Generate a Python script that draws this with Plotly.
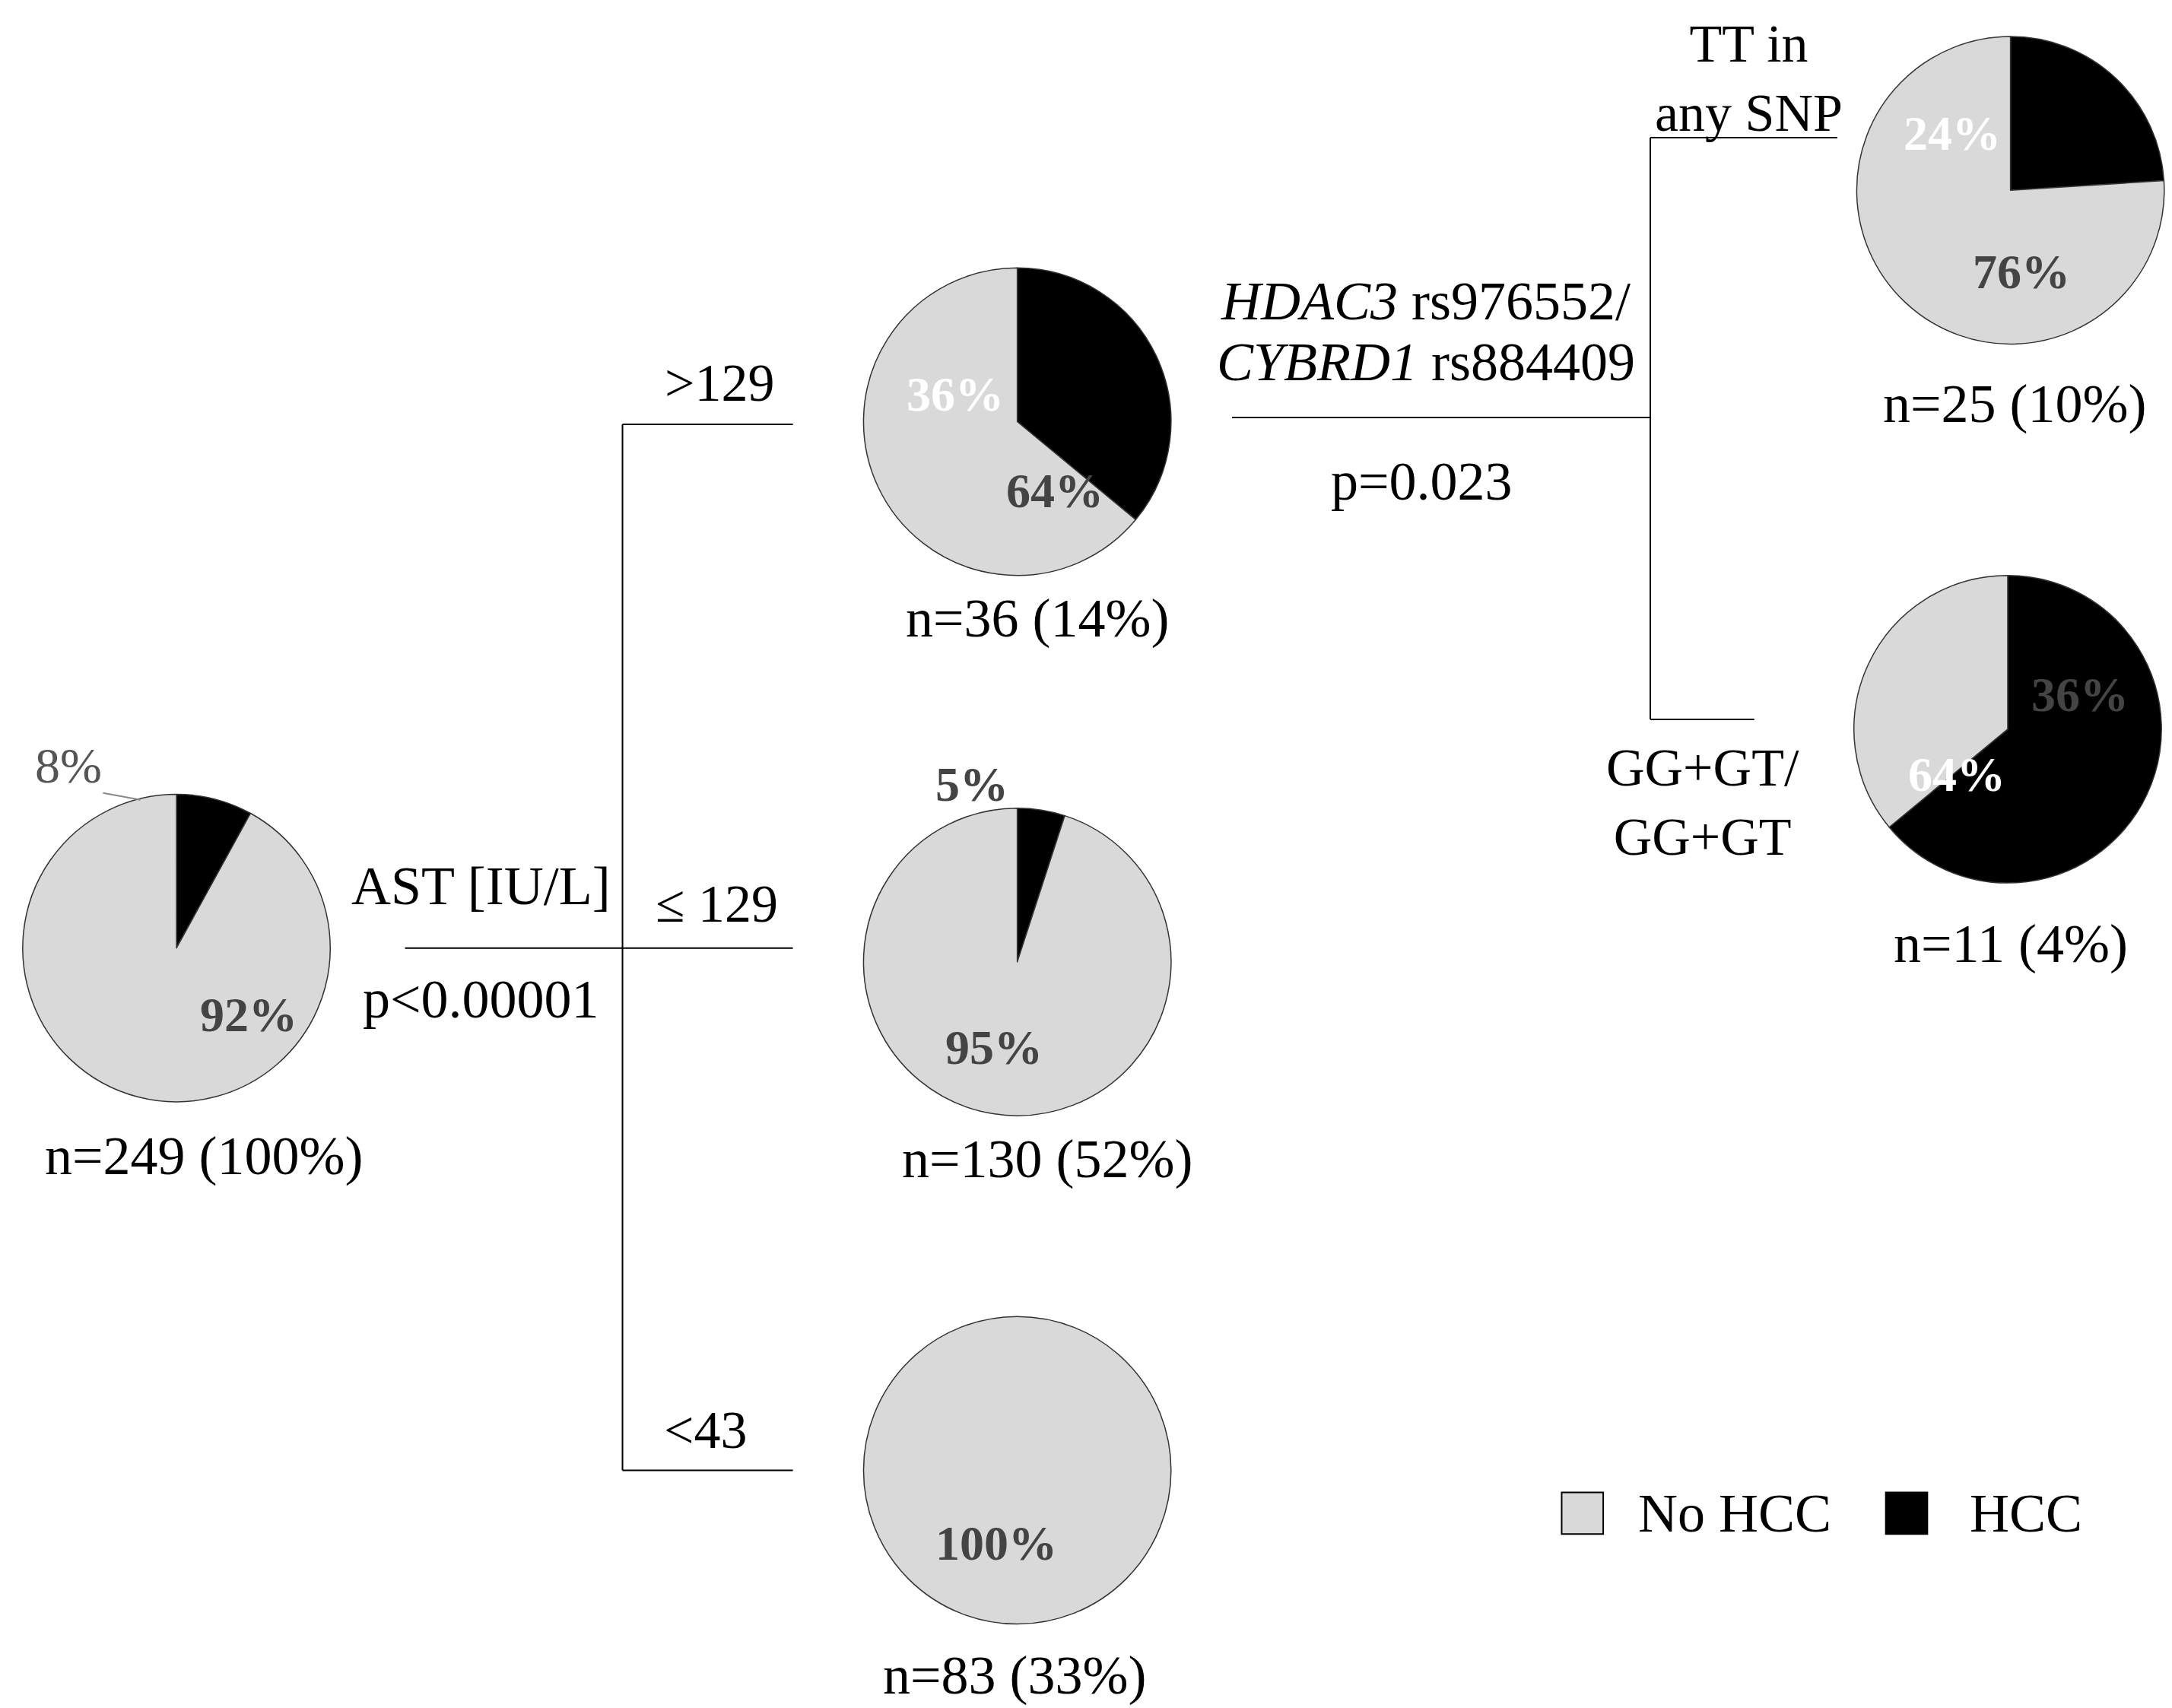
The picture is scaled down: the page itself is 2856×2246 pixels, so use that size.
import plotly.graph_objects as go

# reference drawn on a 1568 x 1233 grid, converted to paper fractions
W, H = 1568.0, 1233.0

node_names = ["root", "ast_high", "ast_mid", "ast_low", "snp_tt", "snp_gg"]
hcc_pct = [8, 36, 5, 0, 24, 64]
no_hcc_pct = [92, 64, 95, 100, 76, 36]
node_n = ["n=249 (100%)", "n=36 (14%)", "n=130 (52%)", "n=83 (33%)", "n=25 (10%)", "n=11 (4%)"]

centers = [(123, 680), (730, 300), (730, 690), (730, 1057), (1447, 133), (1445, 522)]
radius = 111

GREY = "#d9d9d9"
FONT = "Liberation Serif"


def px(x):
    return x / W


def py(y):
    return 1 - y / H


fig = go.Figure()

for i, name in enumerate(node_names):
    cx, cy = centers[i]
    fig.add_trace(go.Pie(
        labels=["HCC", "No HCC"], values=[hcc_pct[i], no_hcc_pct[i]],
        sort=False, direction="clockwise", rotation=0,
        marker=dict(colors=["black", GREY], line=dict(color="#333", width=1.5)),
        textinfo="none", hoverinfo="label+value", showlegend=False, name=name,
        domain=dict(x=[px(cx - radius), px(cx + radius)], y=[py(cy + radius), py(cy - radius)]),
    ))

lines = [
    (288, 680, 568, 680), (445, 302, 445, 1057), (445, 302, 568, 302), (445, 1057, 568, 1057),
    (885, 297, 1187, 297), (1187, 95, 1187, 515), (1187, 95, 1322, 95), (1187, 515, 1262, 515),
]
for x0, y0, x1, y1 in lines:
    fig.add_shape(type="line", xref="paper", yref="paper", x0=px(x0), y0=py(y0), x1=px(x1), y1=py(y1),
                  line=dict(color="black", width=2))
fig.add_shape(type="line", xref="paper", yref="paper", x0=px(70), y0=py(568), x1=px(97), y1=py(573),
              line=dict(color="#888", width=2))


def txt(x, y, s, size=72, color="black", bold=False):
    if bold:
        s = "<b>" + s + "</b>"
    fig.add_annotation(x=px(x), y=py(y), xref="paper", yref="paper", text=s, showarrow=False,
                       xanchor="center", yanchor="middle",
                       font=dict(family=FONT, size=size, color=color), align="center")


DG = "#444444"
# percent labels
txt(45, 548, "8%", 66, "#555")
txt(175, 728, "92%", 64, DG, True)
txt(685, 280, "36%", 64, "white", True)
txt(757, 350, "64%", 64, DG, True)
txt(697, 562, "5%", 64, DG, True)
txt(713, 752, "95%", 64, DG, True)
txt(715, 1110, "100%", 64, DG, True)
txt(1405, 92, "24%", 64, "white", True)
txt(1455, 192, "76%", 64, DG, True)
txt(1497, 497, "36%", 64, DG, True)
txt(1408, 555, "64%", 64, "white", True)

# node sizes
label_pos = [(143, 830), (745, 442), (752, 832), (728, 1205), (1450, 287), (1447, 677)]
for (x, y), s in zip(label_pos, node_n):
    txt(x, y, s)

# split labels
txt(343, 635, "AST [IU/L]")
txt(343, 717, "p<0.00001")
txt(515, 272, ">129", 70)
txt(513, 648, "≤ 129", 70)
txt(505, 1028, "<43", 70)
txt(1025, 213, "<i>HDAC3</i> rs976552/")
txt(1025, 257, "<i>CYBRD1</i> rs884409")
txt(1022, 343, "p=0.023")
txt(1258, 52, "TT in<br>any SNP", 70)
txt(1225, 575, "GG+GT/<br>GG+GT", 70)

# legend
for x, c in [(1138, GREY), (1372, "black")]:
    fig.add_shape(type="rect", xref="paper", yref="paper", x0=px(x - 15), x1=px(x + 15),
                  y0=py(1103), y1=py(1073), fillcolor=c, line=dict(color="black", width=2))
txt(1248, 1088, "No HCC")
txt(1458, 1088, "HCC")

fig.update_layout(width=2856, height=2246, margin=dict(l=0, r=0, t=0, b=0),
                  paper_bgcolor="white", plot_bgcolor="white", showlegend=False)
fig.write_html("out.html")
